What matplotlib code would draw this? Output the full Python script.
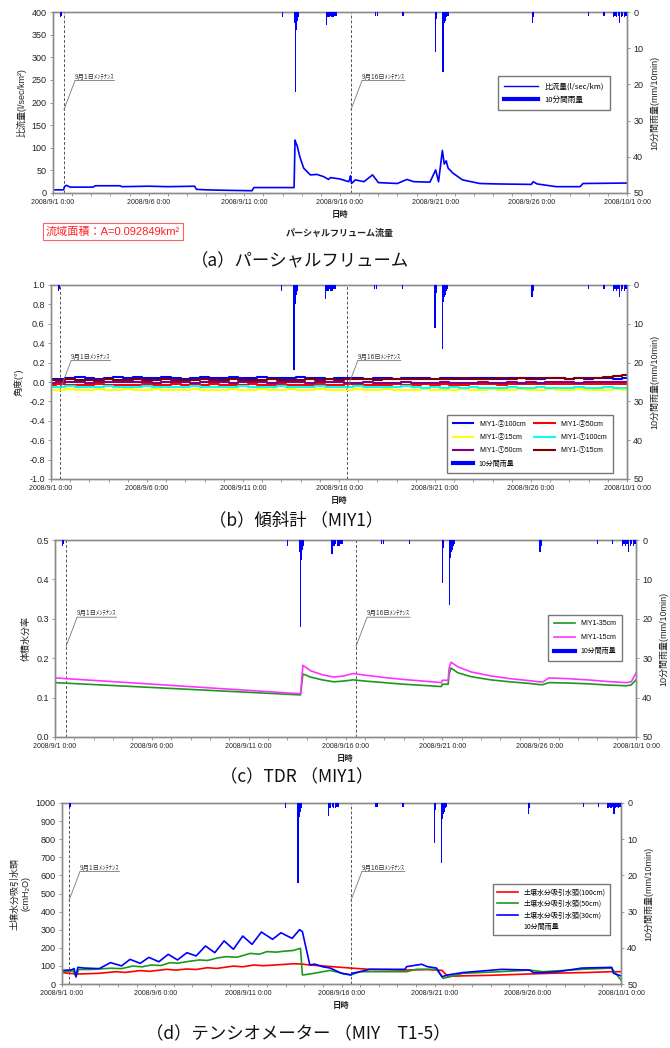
import numpy as np
import matplotlib
matplotlib.use("Agg")
import matplotlib.pyplot as plt
from matplotlib.lines import Line2D
from matplotlib.ticker import FixedLocator, MultipleLocator

plt.rcParams['font.family'] = ['Liberation Sans', 'Noto Sans CJK JP', 'DejaVu Sans']
plt.rcParams['axes.unicode_minus'] = False
JP = ['Noto Sans CJK JP', 'DejaVu Sans']

# ---------------- time axis (days since 2008/9/1 0:00) ----------------
date_ticks = [0, 5, 10, 15, 20, 25, 30]
date_labels = ['2008/9/1 0:00', '2008/9/6 0:00', '2008/9/11 0:00', '2008/9/16 0:00',
               '2008/9/21 0:00', '2008/9/26 0:00', '2008/10/1 0:00']

# ---------------- 10-minute rainfall (mm/10min) ----------------
rain_t = [0.40, 0.45, 12.00, 12.62, 12.66, 12.70, 12.74, 12.78, 12.83,
          14.30, 14.36, 14.42, 14.50, 14.58, 14.66, 14.74, 14.82,
          16.85, 16.95, 18.30,
          20.00, 20.05, 20.38, 20.42, 20.47, 20.52, 20.58, 20.64,
          25.05, 25.10, 28.00, 28.80,
          29.30, 29.38, 29.46, 29.54, 29.62, 29.70, 29.78, 29.86, 29.94]
rain_mm = [1.5, 1.0, 1.5, 3.0, 22.0, 5.0, 4.0, 2.5, 1.5,
           3.5, 1.5, 1.5, 1.0, 1.5, 1.5, 1.0, 1.0,
           1.0, 1.0, 1.0,
           11.0, 2.0, 16.5, 4.5, 3.0, 2.5, 1.5, 1.0,
           3.0, 1.5, 1.0, 1.0,
           1.5, 1.0, 1.5, 1.0, 3.0, 1.5, 1.0, 1.5, 1.0]

# ---------------- (a) Parshall flume specific discharge (l/sec/km2) ----------------
flow_t = [0, 0.55, 0.6, 0.7, 0.9, 2.1, 2.2, 3.5, 3.6, 5.0, 6.0, 7.4, 7.5, 8.0, 9.0, 10.4,
          10.5, 12.6, 12.65, 12.7, 12.75, 12.9, 13.1, 13.45, 13.8, 14.15, 14.4, 14.5,
          15.0, 15.45, 15.5, 15.55, 15.6, 15.8, 16.25, 16.7, 16.9, 17.0, 18.0, 18.5,
          18.85, 19.7, 20.0, 20.15, 20.35, 20.45, 20.55, 20.65, 20.9, 21.4, 22.3, 23.2,
          25.0, 25.1, 25.3, 26.3, 27.55, 27.7, 30.0]
flow_v = [7, 7, 14, 17, 13, 13, 16, 16, 14, 15, 14, 15, 8, 7, 6, 5,
          12, 12, 117, 110, 106, 80, 55, 40, 41, 36, 30, 34,
          31, 25, 29, 38, 21, 29, 25, 40, 29, 23, 21, 30,
          25, 24, 51, 25, 94, 64, 71, 55, 44, 29, 21, 20,
          19, 25, 20, 14, 14, 21, 22]

# ---------------- (b) inclinometer angles (deg), half-day readings ----------------
tilt_t = np.arange(0, 30.5, 0.5)
tilt_2_100 = [0.030, 0.035, 0.045, 0.050, 0.040, 0.035, 0.040, 0.050, 0.045, 0.050,
              0.040, 0.045, 0.050, 0.045, 0.035, 0.045, 0.050, 0.040, 0.045, 0.050,
              0.045, 0.040, 0.050, 0.045, 0.040, 0.045, 0.050, 0.045, 0.040, 0.035,
              0.040, 0.045, 0.040, 0.035, 0.045, 0.040, 0.035, 0.040, 0.045, 0.040,
              0.035, 0.040, 0.045, 0.035, 0.040, 0.045, 0.040, 0.035, 0.040, 0.045,
              0.040, 0.035, 0.040, 0.045, 0.035, 0.040, 0.035, 0.045, 0.040, 0.035,
              0.040]
tilt_2_50 = [-0.030, -0.025, -0.030, -0.035, -0.030, -0.025, -0.030, -0.030, -0.035, -0.030,
             -0.025, -0.030, -0.030, -0.025, -0.035, -0.030, -0.030, -0.025, -0.030, -0.035,
             -0.030, -0.025, -0.030, -0.030, -0.025, -0.030, -0.035, -0.030, -0.025, -0.030,
             -0.030, -0.025, -0.030, -0.030, -0.035, -0.030, -0.025, -0.030, -0.030, -0.025,
             -0.030, -0.025, -0.030, -0.030, -0.025, -0.020, -0.025, -0.030, -0.025, -0.025,
             -0.020, -0.025, -0.025, -0.020, -0.025, -0.020, -0.020, -0.025, -0.020, -0.020,
             -0.020]
tilt_2_15 = [-0.085, -0.080, -0.070, -0.080, -0.085, -0.075, -0.080, -0.085, -0.070, -0.080,
             -0.085, -0.075, -0.080, -0.085, -0.080, -0.070, -0.080, -0.085, -0.080, -0.075,
             -0.085, -0.080, -0.075, -0.085, -0.080, -0.070, -0.085, -0.080, -0.075, -0.080,
             -0.085, -0.080, -0.075, -0.080, -0.085, -0.075, -0.080, -0.085, -0.080, -0.070,
             -0.080, -0.085, -0.080, -0.075, -0.080, -0.085, -0.075, -0.080, -0.080, -0.075,
             -0.080, -0.085, -0.075, -0.080, -0.080, -0.075, -0.080, -0.085, -0.080, -0.075,
             -0.080]
tilt_1_100 = [-0.050, -0.055, -0.045, -0.050, -0.055, -0.050, -0.045, -0.050, -0.055, -0.050,
              -0.045, -0.050, -0.050, -0.055, -0.050, -0.045, -0.050, -0.055, -0.050, -0.050,
              -0.045, -0.055, -0.050, -0.050, -0.045, -0.050, -0.055, -0.050, -0.045, -0.050,
              -0.055, -0.050, -0.045, -0.050, -0.055, -0.050, -0.050, -0.045, -0.055, -0.060,
              -0.055, -0.060, -0.055, -0.060, -0.055, -0.060, -0.065, -0.060, -0.055, -0.060,
              -0.060, -0.055, -0.060, -0.065, -0.060, -0.055, -0.060, -0.060, -0.055, -0.060,
              -0.060]
tilt_1_50 = [-0.010, 0.000, -0.005, 0.005, -0.010, -0.005, 0.000, 0.005, -0.005, 0.000,
             0.005, -0.010, 0.000, 0.005, -0.005, -0.010, 0.000, 0.005, 0.000, -0.010,
             -0.005, 0.005, 0.000, -0.010, 0.000, 0.005, -0.005, -0.010, 0.000, 0.005,
             -0.005, -0.015, -0.010, -0.005, -0.010, -0.015, -0.010, -0.005, -0.010, -0.015,
             -0.010, -0.005, -0.010, -0.015, -0.010, -0.005, -0.010, -0.010, -0.005, -0.010,
             -0.005, -0.010, -0.005, 0.000, -0.005, -0.010, -0.005, 0.000, -0.005, 0.000,
             0.005]
tilt_1_15 = [0.020, 0.025, 0.030, 0.025, 0.020, 0.025, 0.030, 0.025, 0.020, 0.030,
             0.025, 0.020, 0.030, 0.025, 0.020, 0.025, 0.030, 0.020, 0.025, 0.030,
             0.025, 0.020, 0.025, 0.030, 0.025, 0.020, 0.025, 0.030, 0.025, 0.030,
             0.025, 0.030, 0.035, 0.030, 0.025, 0.030, 0.035, 0.030, 0.035, 0.030,
             0.035, 0.030, 0.035, 0.040, 0.035, 0.030, 0.035, 0.040, 0.035, 0.040,
             0.035, 0.040, 0.045, 0.040, 0.035, 0.040, 0.045, 0.040, 0.050, 0.060,
             0.075]

# ---------------- (c) TDR volumetric water content ----------------
tdr_t = [0, 12.6, 12.68, 12.8, 13.2, 13.8, 14.4, 14.9, 15.4, 16.0, 17.0, 18.0, 19.0,
         19.95, 20.0, 20.3, 20.35, 20.45, 20.8, 21.5, 22.5, 23.5, 24.5, 25.0, 25.2,
         25.5, 26.5, 27.5, 28.5, 29.5, 29.75, 30.0]
tdr_35 = [0.138, 0.107, 0.107, 0.160, 0.152, 0.145, 0.140, 0.142, 0.145, 0.142, 0.138,
          0.134, 0.131, 0.128, 0.134, 0.134, 0.160, 0.175, 0.163, 0.153, 0.145, 0.140,
          0.136, 0.133, 0.133, 0.138, 0.137, 0.135, 0.132, 0.130, 0.132, 0.145]
tdr_15 = [0.150, 0.110, 0.110, 0.182, 0.168, 0.158, 0.152, 0.155, 0.161, 0.157, 0.151,
          0.146, 0.142, 0.138, 0.144, 0.144, 0.175, 0.190, 0.178, 0.165, 0.155, 0.148,
          0.143, 0.140, 0.140, 0.150, 0.148, 0.145, 0.141, 0.138, 0.140, 0.162]

# ---------------- (d) tensiometer suction head (cmH2O) ----------------
ten100_t = [0, 0.8, 2.0, 2.9, 3.4, 4.2, 4.7, 5.6, 6.1, 6.7, 7.2, 7.8, 8.3, 9.2, 9.7, 10.3,
            10.8, 11.4, 11.9, 12.4, 12.9, 13.2, 14.6, 15.5, 16.5, 18.5, 19.6, 20.4, 20.7,
            21.5, 23.0, 25.0, 26.5, 28.0, 29.5, 30.0]
ten100_v = [63, 55, 59, 68, 64, 74, 70, 81, 77, 83, 80, 90, 86, 99, 95, 105,
            101, 105, 108, 112, 110, 106, 95, 88, 81, 77, 80, 75, 42,
            45, 48, 55, 60, 63, 68, 68]
ten50_t = [0, 0.6, 0.75, 0.9, 1.5, 2.6, 3.2, 3.8, 4.3, 4.8, 5.3, 5.8, 6.2, 6.8, 7.4, 7.8,
           8.4, 8.8, 9.4, 10.1, 10.6, 11.0, 11.5, 11.9, 12.4, 12.8, 12.9, 13.3, 14.0, 14.4,
           15.0, 15.5, 16.0, 18.5, 19.0, 20.1, 20.45, 20.8, 21.5, 23.5, 25.1, 25.8, 27.9,
           29.5, 29.7, 30.0]
ten50_v = [68, 72, 40, 80, 80, 87, 85, 99, 95, 105, 102, 118, 115, 125, 133, 130,
           145, 151, 148, 169, 165, 179, 176, 181, 185, 197, 50, 55, 68, 75,
           60, 50, 68, 68, 81, 81, 31, 40, 59, 68, 77, 68, 81,
           88, 60, 22]
ten30_t = [0, 0.5, 0.65, 0.75, 0.85, 1.2, 2.0, 2.6, 3.2, 3.65, 4.2, 4.66, 5.2, 5.7, 6.2,
           6.7, 7.2, 7.7, 8.2, 8.7, 9.2, 9.7, 10.2, 10.7, 11.3, 11.75, 12.35, 12.75, 12.9,
           13.3, 13.55, 14.0, 14.4, 15.0, 15.5, 15.6, 16.0, 16.5, 18.4, 18.5, 19.3, 19.6,
           20.1, 20.4, 20.7, 21.5, 23.6, 25.1, 25.3, 25.8, 26.6, 27.9, 29.5, 29.6, 30.0]
ten30_v = [75, 78, 85, 40, 92, 88, 85, 118, 100, 136, 114, 147, 123, 164, 133,
           173, 155, 210, 173, 238, 192, 265, 219, 287, 247, 283, 252, 300, 290,
           105, 110, 95, 88, 59, 50, 60, 68, 81, 81, 96, 109, 96,
           88, 40, 50, 63, 81, 77, 63, 63, 68, 88, 92, 59, 45]

# maintenance visits drawn as dashed lines in each panel
maint_a = [0.57, 15.57]
maint_b = [0.47, 15.40]
maint_c = [0.57, 15.54]
maint_d = [0.37, 15.50]
maint_labels = ['9月1日ﾒﾝﾃﾅﾝｽ', '9月16日ﾒﾝﾃﾅﾝｽ']

RAIN_LABEL = '10分間雨量'
RAIN_AXIS = '10分間雨量(mm/10min)'
SPINE = '#8c8c8c'
TXT = '#222222'

fig = plt.figure(figsize=(6.7, 10.48), dpi=100)


def px_rect(x0, y0, x1, y1):
    W, H = 670.0, 1048.0
    return [x0 / W, 1 - y1 / H, (x1 - x0) / W, (y1 - y0) / H]


def style_axes(ax, ax2, ylim, ystep, yfmt, ylabel):
    ax.set_xlim(0, 30)
    ax.set_ylim(*ylim)
    ax.xaxis.set_major_locator(FixedLocator(date_ticks))
    ax.set_xticklabels(date_labels, fontsize=5, color=TXT)
    ax.xaxis.set_minor_locator(MultipleLocator(1))
    ax.yaxis.set_major_locator(MultipleLocator(ystep))
    ax.set_yticklabels([yfmt.format(v) for v in ax.get_yticks()], fontsize=6.5, color=TXT)
    ax.set_ylim(*ylim)
    ax.tick_params(axis='both', which='both', direction='out', length=2.5, width=0.6,
                   color=SPINE, pad=2)
    ax.tick_params(axis='x', which='minor', length=2)
    ax.set_ylabel(ylabel, fontsize=6.5, color=TXT, labelpad=4)
    ax.set_xlabel('日時', fontsize=6, fontweight='bold', color=TXT, labelpad=3, family=JP)
    ax2.set_ylim(50, 0)
    ax2.yaxis.set_major_locator(MultipleLocator(10))
    ax2.tick_params(axis='y', direction='out', length=2.5, width=0.6, color=SPINE,
                    labelsize=6.5, labelcolor=TXT, pad=2)
    ax2.set_ylabel(RAIN_AXIS, fontsize=6.5, color=TXT, labelpad=5)
    for a in (ax, ax2):
        for s in a.spines.values():
            s.set_color(SPINE)
            s.set_linewidth(1.0)
    ax2.bar(rain_t, rain_mm, width=0.07, color='#0000ff', linewidth=0, zorder=3)


def maint_notes(ax, times):
    trans = ax.get_xaxis_transform()
    for t, lab in zip(times, maint_labels):
        ax.axvline(t, color='#555555', lw=0.7, ls=(0, (3, 2)), zorder=1)
        txt = ax.annotate(lab, xy=(t, 0.46), xycoords=trans, xytext=(8, 21),
                          textcoords='offset points', fontsize=4.6, color='#333333',
                          ha='left', va='bottom', family=JP)
        line = dict(arrowstyle='-', color='#777777', lw=0.6, shrinkA=0, shrinkB=0)
        ax.annotate('', xy=(1, 0), xycoords=txt, xytext=(0, 0), textcoords=txt,
                    arrowprops=line)
        ax.annotate('', xy=(t, 0.46), xycoords=trans, xytext=(0, 0), textcoords=txt,
                    arrowprops=line)


def rain_handle():
    return Line2D([], [], color='#0000ff', lw=3)


# ================= (a) =================
axa = fig.add_axes(px_rect(53, 12, 627, 193))
axa2 = axa.twinx()
style_axes(axa, axa2, (0, 400), 50, '{:.0f}', '比流量(l/sec/km²)')
axa.plot(flow_t, flow_v, color='#0000ff', lw=1.2, zorder=2)
maint_notes(axa, maint_a)
axa2.legend([Line2D([], [], color='#0000ff', lw=1), rain_handle()],
            ['比流量(l/sec/km)', RAIN_LABEL], loc='upper left',
            bbox_to_anchor=(0.775, 0.645), frameon=True, fancybox=False,
            edgecolor='#555555', borderpad=0.8, handlelength=4.5, labelspacing=0.7,
            borderaxespad=0, prop={'family': JP, 'size': 5.5})
fig.text(0.507, 1 - 233 / 1048, 'パーシャルフリューム流量', ha='center', va='center',
         fontsize=6.5, fontweight='bold', color=TXT, family=JP)
fig.text(113 / 670, 1 - 231.5 / 1048, '流域面積：A=0.092849km²', ha='center', va='center',
         fontsize=8, color='#ff2020',
         bbox=dict(boxstyle='square,pad=0.3', facecolor='white', edgecolor='#ff6060', lw=0.8))

# ================= (b) =================
axb = fig.add_axes(px_rect(51, 285, 627, 479))
axb2 = axb.twinx()
style_axes(axb, axb2, (-1.0, 1.0), 0.2, '{:.1f}', '角度(°)')
tilt_series = [
    (tilt_2_100, '#0000ff', 'MIY1-②100cm'),
    (tilt_2_50, '#ff0000', 'MIY1-②50cm'),
    (tilt_2_15, '#ffff00', 'MIY1-②15cm'),
    (tilt_1_100, '#00ffff', 'MIY1-①100cm'),
    (tilt_1_50, '#800080', 'MIY1-①50cm'),
    (tilt_1_15, '#800000', 'MIY1-①15cm'),
]
hb = {}
for vals, col, lab in tilt_series:
    hb[lab], = axb.plot(tilt_t, vals, color=col, lw=1.5, drawstyle='steps-mid', zorder=2)
maint_notes(axb, maint_b)
order = ['MIY1-②100cm', 'MIY1-②15cm', 'MIY1-①50cm', None,
         'MIY1-②50cm', 'MIY1-①100cm', 'MIY1-①15cm']
handles = [hb[k] if k else rain_handle() for k in order]
labels = [k if k else RAIN_LABEL for k in order]
axb2.legend(handles, labels, ncol=2, loc='lower left', bbox_to_anchor=(0.6875, 0.03),
            frameon=True, fancybox=False, edgecolor='#555555', borderpad=0.8,
            handlelength=3, columnspacing=1.2, labelspacing=0.9, borderaxespad=0,
            prop={'family': ['Liberation Sans', 'Noto Sans CJK JP'], 'size': 5})

# ================= (c) =================
axc = fig.add_axes(px_rect(55, 540, 636, 737))
axc2 = axc.twinx()
style_axes(axc, axc2, (0.0, 0.5), 0.1, '{:.1f}', '体積水分率')
l35, = axc.plot(tdr_t, tdr_35, color='#1a9a1a', lw=1.2, zorder=2)
l15, = axc.plot(tdr_t, tdr_15, color='#ff33ff', lw=1.2, zorder=2)
maint_notes(axc, maint_c)
axc2.legend([l35, l15, rain_handle()], ['MIY1-35cm', 'MIY1-15cm', RAIN_LABEL],
            loc='upper left', bbox_to_anchor=(0.849, 0.62), frameon=True, fancybox=False,
            edgecolor='#555555', borderpad=0.8, handlelength=3, labelspacing=1.0,
            borderaxespad=0,
            prop={'family': ['Liberation Sans', 'Noto Sans CJK JP'], 'size': 5})

# ================= (d) =================
axd = fig.add_axes(px_rect(62, 803, 621, 984))
axd2 = axd.twinx()
style_axes(axd, axd2, (0, 1000), 100, '{:.0f}', '土壌水分吸引水頭\n(cmH₂O)')
d100, = axd.plot(ten100_t, ten100_v, color='#ff0000', lw=1.2, zorder=2)
d50, = axd.plot(ten50_t, ten50_v, color='#1a9a1a', lw=1.2, zorder=2)
d30, = axd.plot(ten30_t, ten30_v, color='#0000ff', lw=1.2, zorder=2)
maint_notes(axd, maint_d)
axd2.legend([d100, d50, d30, Line2D([], [], color='none')],
            ['土壌水分吸引水頭(100cm)', '土壌水分吸引水頭(50cm)', '土壌水分吸引水頭(30cm)',
             RAIN_LABEL], loc='upper left', bbox_to_anchor=(0.771, 0.552), frameon=True,
            fancybox=False, edgecolor='#555555', borderpad=0.6, handlelength=3,
            labelspacing=0.5, borderaxespad=0, prop={'family': JP, 'size': 5})

# ================= panel captions =================
captions = [('（a）パーシャルフリューム', 300, 261),
            ('（b）傾斜計 （MIY1）', 296, 520),
            ('（c）TDR （MIY1）', 297, 777),
            ('（d）テンシオメーター （MIY　T1-5）', 298, 1034)]
for text, cx, cy in captions:
    fig.text(cx / 670, 1 - cy / 1048, text, ha='center', va='center', fontsize=12.5,
             color='#111111', family=JP)

fig.savefig('out.png', dpi=100)
